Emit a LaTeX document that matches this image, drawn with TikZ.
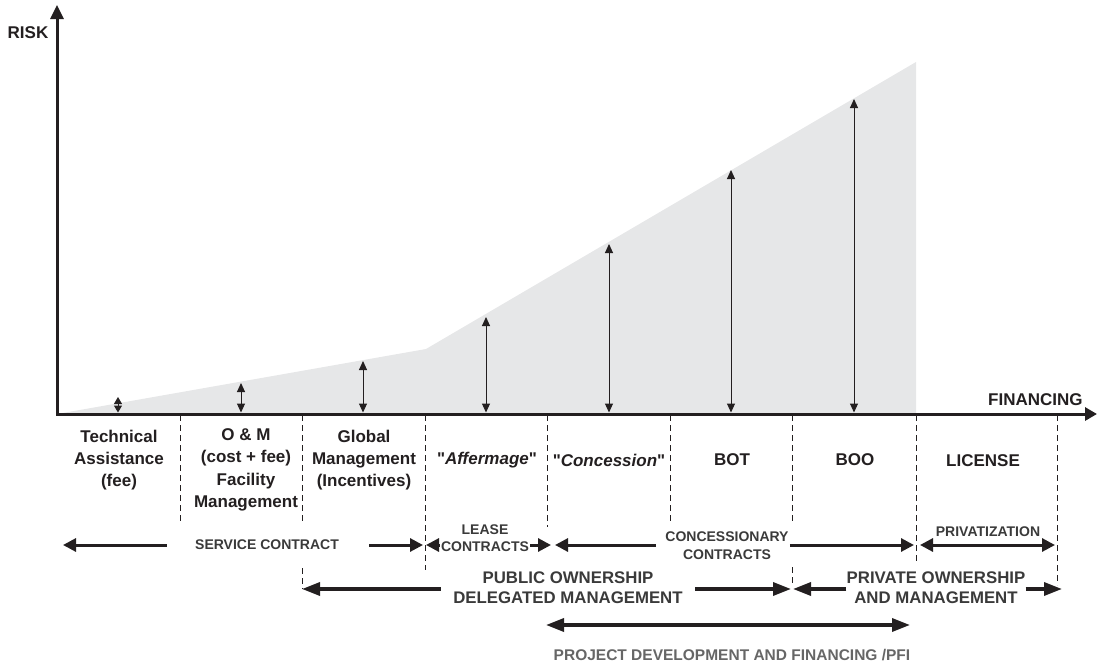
\documentclass[tikz,border=0pt]{standalone}
\usepackage{fontspec}
\setmainfont{Liberation Sans}
\usetikzlibrary{arrows.meta,positioning}

\definecolor{riskgray}{HTML}{E6E7E8}
\definecolor{ink}{HTML}{231F20}
\definecolor{rowink}{HTML}{3A3A3A}
\definecolor{pfiink}{HTML}{666666}

\tikzset{
    axis/.style={ink, line width=1.5pt, line join=miter,
        {Triangle[length=7pt,width=6.5pt]}-{Triangle[length=6pt,width=6.5pt]}},
    riskarrow/.style={ink, line width=0.5pt,
        {Triangle[length=4.5pt,width=4pt]}-{Triangle[length=4.5pt,width=4pt]}},
    separator/.style={ink, line width=0.5pt, dash pattern=on 3pt off 2pt},
    rowtip/.style={ink, line width=1.5pt, -{Triangle[length=6.5pt,width=6.5pt]}},
    rowboth/.style={ink, line width=1.5pt,
        {Triangle[length=6.5pt,width=6.5pt]}-{Triangle[length=6.5pt,width=6.5pt]}},
    owntip/.style={ink, line width=1.7pt, -{Triangle[length=9pt,width=6.5pt]}},
    ownboth/.style={ink, line width=1.7pt,
        {Triangle[length=9pt,width=6.5pt]}-{Triangle[length=9pt,width=6.5pt]}},
    axislabel/.style={ink, font=\bfseries\fontsize{8.5}{10}\selectfont, inner sep=0pt},
    colhead/.style={ink, font=\bfseries\fontsize{8.5}{11.2}\selectfont, align=center, inner sep=0pt},
    rowhead/.style={rowink, font=\bfseries\fontsize{7}{8.5}\selectfont, align=center, inner sep=0.5pt},
    ownhead/.style={rowink, font=\bfseries\fontsize{8.4}{10}\selectfont, align=center, inner sep=0pt},
}

\begin{document}
\begin{tikzpicture}[x=0.5pt, y=-0.5pt]
    \useasboundingbox (0,0) rectangle (1099,665);

    % risk area
    \coordinate (origin) at (57,414);
    \coordinate (kink) at (426,349);
    \coordinate (peak) at (916,62);
    \coordinate (foot) at (916,414);
    \fill[riskgray] (origin) -- (kink) -- (peak) -- (foot) -- cycle;

    % risk borne by each contract
    \coordinate (base1) at (118,412.5);
    \coordinate (top1) at (118,397);
    \draw[ink, line width=0.5pt, {Triangle[length=3.5pt,width=4pt]}-{Triangle[length=3.5pt,width=4pt]}] (base1) -- (top1);
    \foreach \x/\top [count=\i from 2] in {241/383, 363/361, 486/317, 609/244, 731/170, 854/99} {
        \coordinate (base\i) at (\x,412.5);
        \coordinate (top\i) at (\x,\top);
        \draw[riskarrow] (base\i) -- (top\i);
    }

    % column borders
    \foreach \x/\a/\b in {180/415/522, 302/415/522, 302/568/589, 425/415/570, 547/415/527,
                          670/415/522, 792/415/522, 792/567/586, 916/415/562, 1057/415/585} {
        \draw[separator] (\x,\a) -- (\x,\b);
    }

    % axes
    \coordinate (ytip) at (57,5);
    \coordinate (xtip) at (1097,414);
    \draw[axis] (ytip) -- (origin) -- (xtip);
    \node[axislabel] (risk) at (28,33) {RISK};
    \node[axislabel, anchor=east] (financing) at (1083,400) {FINANCING};

    % contract types
    \node[colhead] (technical) at (119,460) {Technical\\Assistance\\(fee)};
    \node[colhead] (om) at (246,470) {O \& M\\(cost + fee)\\Facility\\Management};
    \node[colhead] (global) at (364,460) {Global\\Management\\(Incentives)};
    \node[colhead] (affermage) at (487,460) {\textquotedbl\textit{Affermage}\textquotedbl};
    \node[colhead] (concession) at (609,460) {\textquotedbl\textit{Concession}\textquotedbl};
    \node[colhead] (bot) at (732,460) {BOT};
    \node[colhead] (boo) at (855,460) {BOO};
    \node[colhead] (license) at (983,461) {LICENSE};

    % contract families
    \coordinate (serviceL) at (63,545);
    \coordinate (serviceR) at (423,545);
    \node[rowhead] (service) at (267,545) {SERVICE CONTRACT};
    \draw[rowtip] ([xshift=-13.5pt]service.west) -- (serviceL);
    \draw[rowtip] ([xshift=14.5pt]service.east) -- (serviceR);

    \coordinate (leaseL) at (426,545);
    \coordinate (leaseR) at (551,545);
    \node[rowhead] (lease) at (485,538) {LEASE\\CONTRACTS};
    \draw[rowtip] (lease.west |- leaseL) -- (leaseL);
    \draw[rowtip] (lease.east |- leaseR) -- (leaseR);

    \coordinate (concL) at (555,545);
    \coordinate (concR) at (914,545);
    \node[rowhead, font=\bfseries\fontsize{7}{9}\selectfont] (concessionary) at (727,546) {CONCESSIONARY\\CONTRACTS};
    \draw[rowtip] ([xshift=-4pt]concessionary.west |- concL) -- (concL);
    \draw[rowtip] (concessionary.east |- concR) -- (concR);

    \coordinate (privL) at (920,545);
    \coordinate (privR) at (1055,545);
    \node[rowhead] (privatization) at (988,532) {PRIVATIZATION};
    \draw[rowboth] (privL) -- (privR);

    % ownership
    \coordinate (publicL) at (302,589);
    \coordinate (publicR) at (791,589);
    \node[ownhead] (public) at (568,588) {PUBLIC OWNERSHIP\\DELEGATED MANAGEMENT};
    \draw[owntip] ([xshift=-6pt]public.west |- publicL) -- (publicL);
    \draw[owntip] ([xshift=6pt]public.east |- publicR) -- (publicR);

    \coordinate (privateL) at (793,589);
    \coordinate (privateR) at (1062,589);
    \node[ownhead] (private) at (936,588) {PRIVATE OWNERSHIP\\AND MANAGEMENT};
    \draw[owntip] (private.west |- privateL) -- (privateL);
    \draw[owntip] (private.east |- privateR) -- (privateR);

    % project finance
    \coordinate (pfiL) at (546,625);
    \coordinate (pfiR) at (910,625);
    \draw[ownboth] (pfiL) -- (pfiR);
    \node[rowhead, pfiink, font=\bfseries\fontsize{7.75}{9}\selectfont] (pfi) at (732,655) {PROJECT DEVELOPMENT AND FINANCING /PFI};
\end{tikzpicture}
\end{document}
